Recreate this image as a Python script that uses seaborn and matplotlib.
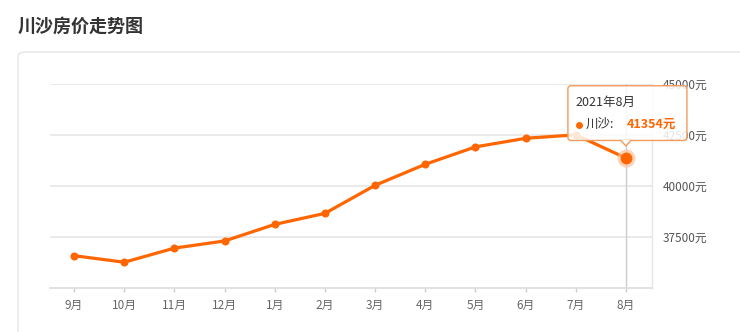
import matplotlib
matplotlib.use("Agg")
import matplotlib.pyplot as plt
import seaborn as sns
import pandas as pd
from matplotlib.patches import FancyBboxPatch, Polygon
from matplotlib.lines import Line2D

# ---- data ----
months = ["9月", "10月", "11月", "12月", "1月", "2月", "3月", "4月", "5月", "6月", "7月", "8月"]
prices = [36580, 36260, 36950, 37300, 38110, 38650, 40020, 41050, 41900, 42320, 42490, 41354]
yticks = [37500, 40000, 42500, 45000]
title = "川沙房价走势图"
series_name = "川沙"
tip_title = "2021年8月"

ORANGE = "#ff6600"

sns.set_theme(style="white")
plt.rcParams["font.family"] = ["Noto Sans CJK SC", "DejaVu Sans"]

W, H = 740, 332
fig = plt.figure(figsize=(W / 100, H / 100), dpi=100)
fig.patch.set_facecolor("white")

# card background
card = FancyBboxPatch((18 / W, 0 - 0.2), 1.2, (H - 52) / H + 0.2,
                      boxstyle="round,pad=0,rounding_size=0.012",
                      transform=fig.transFigure, fc="white", ec="#e6e6e6", lw=1.0,
                      zorder=-5)
fig.patches.append(card)

fig.text(18 / W, 1 - 26 / H, title, fontsize=13, fontweight="bold",
         color="#333333", ha="left", va="center")

ax = fig.add_axes([50 / W, 1 - 288 / H, (652 - 50) / W, (288 - 83.5) / H])
ax.set_facecolor("none")
ax.set_zorder(1)

df = pd.DataFrame({"month": months, "price": prices})
sns.lineplot(data=df, x="month", y="price", sort=False, ax=ax, color=ORANGE,
             lw=2.3, marker="o", markersize=5.8, markeredgewidth=0, zorder=3)

ax.set_xlim(-0.48, len(months) - 0.48)
ax.set_ylim(35000, 45000)
ax.set_xlabel("")
ax.set_ylabel("")

# grid
for v in yticks:
    ax.axhline(v, color="#e6e6e6", lw=1.2, zorder=1)

for s in ["left", "top"]:
    ax.spines[s].set_visible(False)
ax.spines["bottom"].set_color("#dcdcdc")
ax.spines["bottom"].set_linewidth(1.2)
ax.spines["right"].set_color("#e6e6e6")
ax.spines["right"].set_linewidth(1.0)

ax.yaxis.tick_right()
ax.set_yticks(yticks)
ax.set_yticklabels([f"{v}元" for v in yticks])
ax.tick_params(axis="y", length=0, pad=8, labelsize=8.5, labelcolor="#555555")
ax.tick_params(axis="x", length=3, width=1, color="#cccccc", pad=5,
               labelsize=8.5, labelcolor="#666666", bottom=True, direction="out")

# crosshair + highlighted last point
last_i = len(months) - 1
last_v = prices[-1]
ax.axvline(last_i, color="#cccccc", lw=1, zorder=2)
ax.plot([last_i], [last_v], "o", ms=13, color="#ffc29a", alpha=0.7, mew=0, zorder=4)
ax.plot([last_i], [last_v], "o", ms=8.5, color=ORANGE, mew=0, zorder=5)

# tooltip in display (pixel) coords anchored to the last point
fig.canvas.draw()
px, py = ax.transData.transform((last_i, last_v))
bx0, bx1 = px - 58, px + 61
by0, by1 = py + 17.6, py + 72.3
tip = FancyBboxPatch((bx0, by0), bx1 - bx0, by1 - by0,
                     boxstyle="round,pad=0,rounding_size=3",
                     transform=None, fc=(1, 1, 1, 0.85), ec="#f39a5a", lw=1.0,
                     zorder=10)
fig.patches.append(tip)
tri = Polygon([(px - 5, by0 + 0.5), (px + 5, by0 + 0.5), (px, py + 12)],
              closed=True, transform=None, fc=(1, 1, 1, 0.95), ec="none", zorder=11)
fig.patches.append(tri)
fig.lines.append(Line2D([px - 5, px, px + 5], [by0, py + 12, by0], transform=None,
                        color="#f39a5a", lw=1.0, zorder=12))

fig.text(px - 50, py + 56, tip_title, transform=None, fontsize=9,
         color="#333333", ha="left", va="center", zorder=13)
fig.lines.append(Line2D([px - 47], [py + 33.3], transform=None, marker="o",
                        ms=5, color=ORANGE, mew=0, zorder=13))
fig.text(px - 40, py + 33.3, f"{series_name}:", transform=None, fontsize=9,
         color="#333333", ha="left", va="center", zorder=13)
fig.text(px + 1, py + 33.3, f"{last_v}元", transform=None, fontsize=9,
         fontweight="bold", color=ORANGE, ha="left", va="center", zorder=13)

fig.savefig("out.png", dpi=100)
